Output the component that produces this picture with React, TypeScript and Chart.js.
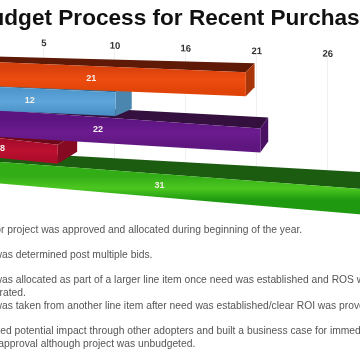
import React, { useEffect, useRef } from "react";
import { Chart, registerables } from "chart.js";

Chart.register(...registerables);

const chartTitle = "Budget Process for Recent Purchases";
const categories = ["Approved at start of year", "Determined post bids", "Part of larger line item", "Taken from another line item", "Built a business case"];
const seriesValues = [21, 12, 22, 8, 31];
const tickValues = [5.2, 10.4, 15.6, 20.8, 26];
const frontColors = [
  ["#d8400c", "#ee4c10", "#e04408"],
  ["#4f96cc", "#5ea6da", "#4a90c6"],
  ["#5c1480", "#6c1c90", "#601680"],
  ["#a80c2c", "#bc1030", "#ac0c2a"],
  ["#33ad16", "#4cc720", "#1f9a10"],
];
const topColors = ["#5e1a06", "#2e6a94", "#34103f", "#6e0818", "#1c5c10"];
const endColors = ["#a8360a", "#4a86ad", "#4a1064", "#860a22", "#1e7a0c"];
const noteLines = [
  "Budget for project was approved and allocated during beginning of the year.",
  "Budget was determined post multiple bids.",
  "Budget was allocated as part of a larger line item once need was established and ROS was",
  "demonstrated.",
  "Budget was taken from another line item after need was established/clear ROI was proven.",
  "Calculated potential impact through other adopters and built a business case for immediate",
  "budget approval although project was unbudgeted.",
];
const noteAnchors = [-43, -41, -41, -40, -41, -37, -36];
const noteRows = [233, 258, 283, 296, 309, 334, 347];

// picture-space perspective of the rows
const PAGE_SHIFT = 100;
const rowHeightScale = [1.07, 1.05, 1.18, 0.87, 0.955];
const rowSlopes = [[0.04, 0.04], [0.045, 0.045], [0.07, 0.06], [0.11, 0.1], [0.075, 0.086]];
const rowDepthY = [9, 7, 11, 12, 17];
const BAR_ORIGIN = -70;

const perspectivePlugin = {
  id: "perspective",
  afterLayout(chart: any) {
    const s = chart.scales.x;
    if (s.__wrapped) return;
    s.__wrapped = true;
    const drawLabels = s.drawLabels.bind(s);
    const drawGrid = s.drawGrid.bind(s);
    s.drawLabels = (a: any) => {
      const c = chart.ctx;
      c.save();
      c.transform(1, 0.038, 0, 1, 5, -6.5 - 0.038 * PAGE_SHIFT);
      drawLabels(a);
      c.restore();
    };
    s.drawGrid = (a: any) => {
      const c = chart.ctx;
      c.save();
      c.transform(1, 0.038, 0, 1, 5, -16 - 0.038 * PAGE_SHIFT);
      drawGrid(a);
      c.restore();
    };
  },
  beforeDatasetDraw() {
    return false;
  },
  afterDatasetsDraw(chart: any) {
    const c = chart.ctx;
    const meta = chart.getDatasetMeta(0);
    const order = meta.data.map((_: any, i: number) => i).reverse();
    const poly = (pts: number[][], fill: any) => {
      c.beginPath();
      pts.forEach((p, i) => (i ? c.lineTo(p[0] + PAGE_SHIFT, p[1]) : c.moveTo(p[0] + PAGE_SHIFT, p[1])));
      c.closePath();
      c.fillStyle = fill;
      c.fill();
    };
    order.forEach((i: number) => {
      const el = meta.data[i];
      const backX = el.x - PAGE_SHIFT;
      const depthX = Math.max(6, 24 - 0.06 * backX);
      const frontX = backX - depthX;
      const h = el.height * rowHeightScale[i];
      const y0 = el.y - h / 2;
      const y1 = el.y + h / 2;
      const [sT, sB] = rowSlopes[i];
      const ft = (x: number) => y0 + sT * x;
      const fb = (x: number) => y1 + sB * x;
      const dy = rowDepthY[i];
      const L = BAR_ORIGIN;
      const grad = c.createLinearGradient(0, ft(frontX * 0.5), 0, fb(frontX * 0.5));
      frontColors[i].forEach((col, k) => grad.addColorStop(k / 2, col));
      poly([[L + depthX, ft(L) - dy * 0.5], [backX, ft(frontX) - dy], [frontX, ft(frontX)], [L, ft(L)]], topColors[i]);
      poly([[frontX, ft(frontX)], [backX, ft(frontX) - dy], [backX, fb(frontX) - dy], [frontX, fb(frontX)]], endColors[i]);
      poly([[L, ft(L)], [frontX, ft(frontX)], [frontX, fb(frontX)], [L, fb(L)]], grad);
      const mid = (backX - 72) / 2;
      c.save();
      c.fillStyle = "#f4efe8";
      c.font = "bold 9px 'Liberation Sans'";
      c.textAlign = "center";
      c.textBaseline = "middle";
      c.fillText(String(seriesValues[i]), mid + PAGE_SHIFT, (ft(mid) + fb(mid)) / 2);
      c.restore();
    });
  },
  afterDraw(chart: any) {
    const c = chart.ctx;
    c.save();
    c.fillStyle = "#555555";
    c.font = "10.3px 'Liberation Sans'";
    c.textBaseline = "alphabetic";
    noteLines.forEach((t, i) => c.fillText(t, noteAnchors[i] + PAGE_SHIFT, noteRows[i]));
    c.restore();
  },
};

export default function App() {
  const ref = useRef<HTMLCanvasElement | null>(null);
  useEffect(() => {
    const chart = new Chart(ref.current as HTMLCanvasElement, {
      type: "bar",
      data: {
        labels: categories,
        datasets: [{ data: seriesValues, backgroundColor: frontColors.map((f) => f[1]), categoryPercentage: 1, barPercentage: 0.92 }],
      },
      plugins: [perspectivePlugin],
      options: {
        indexAxis: "y",
        animation: false,
        responsive: false,
        layout: { padding: { left: 68, right: 63, top: 0, bottom: 175 } },
        plugins: {
          legend: { display: false },
          tooltip: { enabled: false },
          title: {
            display: true,
            text: chartTitle,
            color: "#111111",
            font: { family: "'Liberation Sans'", size: 22.6, weight: "bold" },
            padding: { top: 5, bottom: 2 },
          },
        },
        scales: {
          y: { display: false },
          x: {
            position: "top",
            min: 0,
            max: 31,
            afterBuildTicks: (s: any) => {
              s.ticks = tickValues.map((value) => ({ value }));
            },
            afterFit: (s: any) => {
              s.height = 28;
            },
            border: { display: false },
            grid: { color: "#f0f0f0", drawTicks: false },
            ticks: {
              autoSkip: false,
              maxRotation: 0,
              padding: 8,
              color: "#333333",
              font: { family: "'Liberation Sans'", size: 9.5, weight: "bold" },
              callback: (v: any) => String(Math.round(Number(v))),
            },
          },
        },
      } as any,
    });
    return () => chart.destroy();
  }, []);
  return (
    <div style={{ position: "fixed", left: 0, top: 0, width: 360, height: 360, overflow: "hidden", background: "#fff" }}>
      <canvas ref={ref} width={554} height={360} style={{ position: "absolute", left: -PAGE_SHIFT, top: 0, filter: "blur(0.4px)" }} />
    </div>
  );
}
